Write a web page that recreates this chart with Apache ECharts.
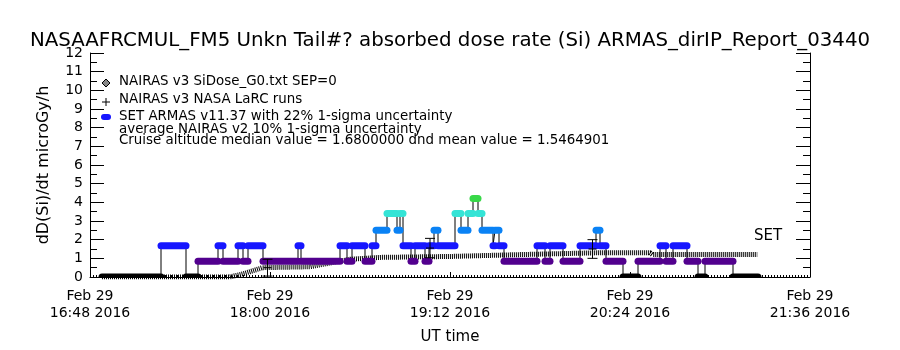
<!DOCTYPE html>
<html>
<head>
<meta charset="utf-8">
<title>ARMAS dose rate</title>
<script src="https://cdn.jsdelivr.net/npm/echarts@6/dist/echarts.min.js"></script>
<style>body{margin:0;background:#fff}</style>
</head>
<body>
<div id="chart" style="width:900px;height:350px"></div>
<script>
// SET ARMAS v11.37 steps (UT), dose rate in microGy/h
var setStart = ['16:52:48','17:16:24','17:26:24','17:31:12','17:39:12','17:41:12','17:47:12','17:49:12','17:51:12','17:57:12',
  '18:11:12','18:12:24','18:28:00','18:30:48','18:32:48','18:38:00','18:40:48','18:42:24','18:46:48','18:50:48',
  '18:52:00','18:53:12','18:56:24','18:58:00','19:02:00','19:03:36','19:05:36','19:07:12','19:14:00','19:16:24',
  '19:19:12','19:21:12','19:23:12','19:24:48','19:29:12','19:30:00','19:31:36','19:33:36','19:46:48','19:50:00',
  '19:52:00','19:57:12','20:04:00','20:10:24','20:12:00','20:14:24','20:21:12','20:27:12','20:36:00','20:38:24',
  '20:41:12','20:46:48','20:51:12','20:54:00','21:05:12'];
var setEnd = ['17:16:24','17:26:24','17:31:12','17:39:12','17:41:12','17:47:12','17:49:12','17:51:12','17:57:12','18:11:12',
  '18:12:24','18:28:00','18:30:48','18:32:48','18:38:00','18:40:48','18:42:24','18:46:48','18:50:48','18:52:00',
  '18:53:12','18:56:24','18:58:00','19:02:00','19:03:36','19:05:36','19:07:12','19:14:00','19:16:24','19:19:12',
  '19:21:12','19:23:12','19:24:48','19:29:12','19:30:00','19:31:36','19:33:36','19:46:48','19:50:00','19:52:00',
  '19:57:12','20:04:00','20:10:24','20:12:00','20:14:24','20:21:12','20:27:12','20:36:00','20:38:24','20:41:12',
  '20:46:48','20:51:12','20:54:00','21:05:12','21:15:12'];
var setValue = [0, 1.68, 0, 0.85, 1.68, 0.85, 1.68, 0.85, 1.68, 0.85,
  1.68, 0.85, 1.68, 0.85, 1.68, 0.85, 1.68, 2.5, 3.4, 2.5,
  3.4, 1.68, 0.85, 1.68, 0.85, 1.68, 2.5, 1.68, 3.4, 2.5,
  3.4, 4.2, 3.4, 2.5, 1.68, 2.5, 1.68, 0.85, 1.68, 0.85,
  1.68, 0.85, 1.68, 2.5, 1.68, 0.85, 0, 0.85, 1.68, 0.85,
  1.68, 0.85, 0, 0.85, 0];

// NAIRAS v3 SiDose_G0 curve
var siTime = ['16:52:48','17:44:00','17:50:00','17:57:00','18:16:00','18:24:00','18:32:00','18:44:00','19:12:00','19:40:00','20:12:00','20:32:00','20:33:00','21:15:00'];
var siValue = [0, 0, 0.2, 0.5, 0.55, 0.75, 0.95, 1.05, 1.1, 1.2, 1.3, 1.3, 1.2, 1.2];

// NAIRAS v3 NASA LaRC runs, 1-sigma
var larcTime = ['17:59:00','19:04:00','20:09:00'];
var larcValue = [0.5, 1.55, 1.5];
var larcErr = [0.45, 0.52, 0.5];

var xTicks = ['16:48','18:00','19:12','20:24','21:36'];

function toMin(s) {
  var p = s.split(':');
  return (+p[0]) * 60 + (+p[1]) + (p[2] ? p[2] / 60 : 0) - (16 * 60 + 48);
}

function setColor(v) {
  if (v <= 0.01) return '#000000';
  if (v < 1.2) return '#52008e';
  if (v < 2.1) return '#1616ff';
  if (v < 3) return '#0a82f5';
  if (v < 3.8) return '#34e4d6';
  return '#38d848';
}

var font = 'DejaVu Sans';
var chart = echarts.init(document.getElementById('chart'));

var stepLine = [];
var bars = [];
for (var i = 0; i < setStart.length; i++) {
  stepLine.push([toMin(setStart[i]), setValue[i]]);
  stepLine.push([toMin(setEnd[i]), setValue[i]]);
  bars.push([toMin(setStart[i]), toMin(setEnd[i]), setValue[i]]);
}

var yAxisCommon = {
  type: 'value', min: 0, max: 12, interval: 1,
  axisLine: {show: true, lineStyle: {color: '#000', width: 1}},
  axisTick: {inside: true, length: 14, lineStyle: {color: '#000'}},
  minorTick: {show: true, splitNumber: 2, length: 7, lineStyle: {color: '#000'}},
  splitLine: {show: false}
};

var legendFont = '13.4px "DejaVu Sans"';

var option = {
  animation: false,
  backgroundColor: '#fff',
  title: {
    text: 'NASAAFRCMUL_FM5 Unkn Tail#? absorbed dose rate (Si) ARMAS_dirIP_Report_03440',
    left: 'center', top: 26,
    textStyle: {fontFamily: font, fontSize: 19.8, fontWeight: 'normal', color: '#000'}
  },
  grid: {left: 90, right: 90, top: 53, bottom: 71},
  xAxis: {
    type: 'value', min: 0, max: 288, interval: 72,
    name: 'UT time', nameLocation: 'middle', nameGap: 53,
    nameTextStyle: {fontFamily: font, fontSize: 15, color: '#000'},
    axisLine: {lineStyle: {color: '#000', width: 1}},
    axisTick: {inside: true, length: 5, lineStyle: {color: '#000'}},
    minorTick: {show: true, splitNumber: 60, length: 2, lineStyle: {color: '#000'}},
    splitLine: {show: false},
    axisLabel: {
      margin: 11, color: '#000', fontFamily: font, fontSize: 14, lineHeight: 17,
      formatter: function (v) { return 'Feb 29\n' + xTicks[Math.round(v / 72)] + ' 2016'; }
    }
  },
  yAxis: [
    Object.assign({}, yAxisCommon, {
      position: 'left',
      name: 'dD(Si)/dt microGy/h', nameLocation: 'middle', nameGap: 38, nameRotate: 90,
      nameTextStyle: {fontFamily: font, fontSize: 16, color: '#000'},
      axisLabel: {margin: 7, color: '#000', fontFamily: font, fontSize: 14}
    }),
    Object.assign({}, yAxisCommon, {position: 'right', axisLabel: {show: false}})
  ],
  series: [
    {
      name: 'NAIRAS v3 SiDose_G0.txt SEP=0', type: 'line', z: 1,
      data: siTime.map(function (t, i) { return [toMin(t), siValue[i]]; }),
      showSymbol: false, symbol: 'none',
      lineStyle: {color: '#000', width: 5, type: [1, 1]}
    },
    {
      name: 'SET line', type: 'line', z: 2, data: stepLine,
      showSymbol: false, symbol: 'none',
      lineStyle: {color: '#000', width: 1}
    },
    {
      name: 'SET ARMAS v11.37', type: 'custom', z: 3, clip: true,
      data: bars,
      encode: {x: [0, 1], y: 2},
      renderItem: function (params, api) {
        var s = api.coord([api.value(0), api.value(2)]);
        var e = api.coord([api.value(1), api.value(2)]);
        var h = 7;
        return {
          type: 'rect',
          shape: {x: s[0] - 3.5, y: s[1] - h / 2, width: e[0] - s[0] + 7, height: h, r: 3.5},
          style: {fill: setColor(api.value(2))}
        };
      }
    },
    {
      name: 'NAIRAS v3 NASA LaRC runs', type: 'custom', z: 4, clip: true,
      data: larcTime.map(function (t, i) { return [toMin(t), larcValue[i], larcErr[i]]; }),
      encode: {x: 0, y: 1},
      renderItem: function (params, api) {
        var x = api.value(0), v = api.value(1), e = api.value(2);
        var c = api.coord([x, v]);
        var hi = api.coord([x, v + e]);
        var lo = api.coord([x, v - e]);
        var st = {stroke: '#000', lineWidth: 1};
        return {
          type: 'group',
          children: [
            {type: 'line', shape: {x1: hi[0], y1: hi[1], x2: lo[0], y2: lo[1]}, style: st},
            {type: 'line', shape: {x1: hi[0] - 5, y1: hi[1], x2: hi[0] + 5, y2: hi[1]}, style: st},
            {type: 'line', shape: {x1: lo[0] - 5, y1: lo[1], x2: lo[0] + 5, y2: lo[1]}, style: st},
            {type: 'line', shape: {x1: c[0] - 4, y1: c[1], x2: c[0] + 4, y2: c[1]}, style: st}
          ]
        };
      }
    }
  ],
  graphic: [
    {type: 'polygon', shape: {points: [[106, 79], [110, 83], [106, 87], [102, 83]]}, style: {fill: '#888', stroke: '#000', lineWidth: 1}},
    {type: 'text', left: 119, top: 75, style: {text: 'NAIRAS v3 SiDose_G0.txt SEP=0', font: legendFont, fill: '#000'}},
    {type: 'line', shape: {x1: 102, y1: 102, x2: 110, y2: 102}, style: {stroke: '#000'}},
    {type: 'line', shape: {x1: 106, y1: 98, x2: 106, y2: 106}, style: {stroke: '#000'}},
    {type: 'text', left: 119, top: 93, style: {text: 'NAIRAS v3 NASA LaRC runs', font: legendFont, fill: '#000'}},
    {type: 'rect', shape: {x: 101, y: 114, width: 10, height: 6, r: 3}, style: {fill: '#1616ff'}},
    {type: 'text', left: 119, top: 110, style: {text: 'SET ARMAS v11.37 with 22% 1-sigma uncertainty', font: legendFont, fill: '#000'}},
    {type: 'text', left: 119, top: 123, style: {text: 'average NAIRAS v2 10% 1-sigma uncertainty', font: legendFont, fill: '#000'}},
    {type: 'text', left: 119, top: 134, style: {text: 'Cruise altitude median value = 1.6800000 dnd mean value = 1.5464901', font: legendFont, fill: '#000'}},
    {type: 'text', left: 754, top: 229, style: {text: 'SET', font: '15px "DejaVu Sans"', fill: '#000'}}
  ]
};
chart.setOption(option);
</script>
</body>
</html>
